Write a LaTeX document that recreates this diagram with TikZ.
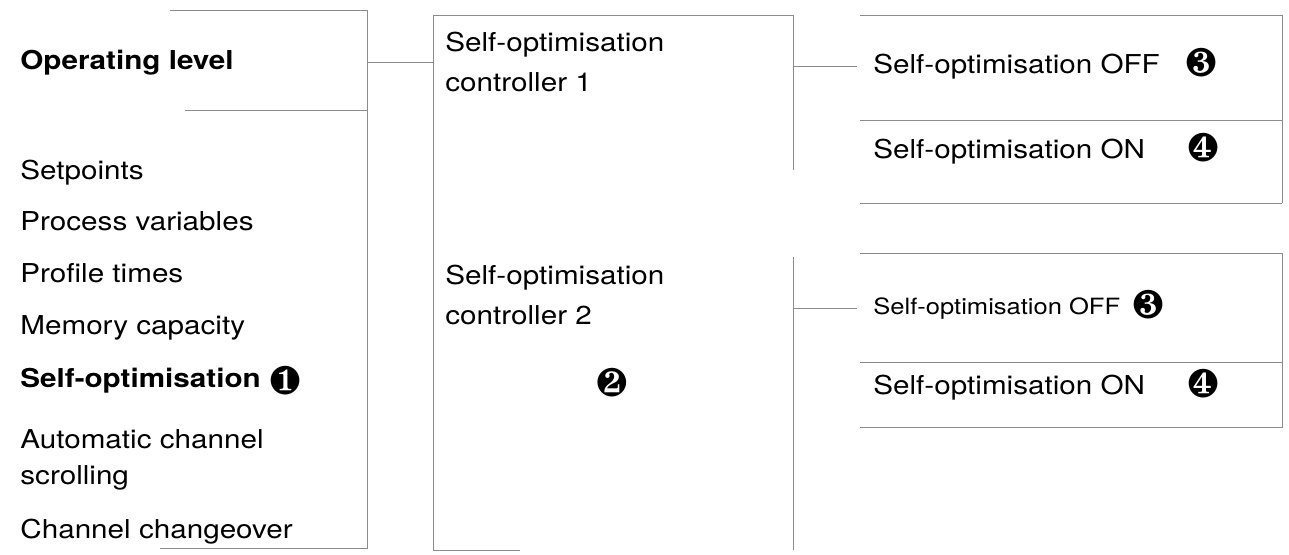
\documentclass[tikz,border=0pt]{standalone}
\usepackage{fontspec}
\setmainfont{TeX Gyre Heros}[FakeStretch=1.14]
\usepackage{pifont}
\usepackage{tikz}
\usetikzlibrary{positioning}
\tikzstyle{item} = [
    anchor=base west,
    inner sep=0pt,
    font=\fontsize{13}{18}\selectfont
]
\tikzstyle{twoline} = [
    item,
    anchor=north west,
    align=left
]
\tikzstyle{badge} = [
    inner sep=0pt,
    font=\fontsize{20}{20}\selectfont
]
\tikzstyle{rule} = [
    draw=black!45,
    line width=0.5pt
]
\tikzstyle{link} = [rule]

\begin{document}
\begin{tikzpicture}[x=0.5pt, y=-0.5pt]
    \useasboundingbox (0,0) rectangle (1289,554);

    % Column edges
    \coordinate (lcol-e) at (367,0);
    \coordinate (mcol-w) at (433,0);
    \coordinate (mcol-e) at (793,0);

    % Frames
    \draw[rule] (170,10) -- (367,10) -- (367,548) -- (160,548);
    \draw[rule] (185,110) -- (367,110);
    \draw[rule] (520,550) -- (433,550) -- (433,15) -- (793,15) -- (793,170);
    \draw[rule] (793,257) -- (793,550);
    \draw[rule] (860,15) -- (1282,15) -- (1282,203);
    \draw[rule] (860,120) -- (1282,120);
    \draw[rule] (860,203) -- (1282,203);
    \draw[rule] (860,253) -- (1282,253) -- (1282,427) -- (860,427);
    \draw[rule] (860,362) -- (1282,362);

    % Operating level menu
    \node[item, font=\fontsize{13}{18}\selectfont\bfseries] (oplevel) at (20,69) {Operating level};
    \node[item] (setpoints) at (20,179) {Setpoints};
    \node[item] (procvar) at (20,230) {Process variables};
    \node[item] (proftime) at (20,282) {Profile times};
    \node[item] (memcap) at (20,334) {Memory capacity};
    \node[item, font=\fontsize{13}{18}\selectfont\bfseries] (selfopt) at (20,387) {Self-optimisation};
    \node[badge, right=4pt of selfopt] (n1) {\ding{182}};
    \node[twoline] (autoscroll) at (20,429) {Automatic channel\\scrolling};
    \node[item] (chchange) at (20,538) {Channel changeover};

    % Controllers
    \node[twoline, font=\fontsize{13}{20}\selectfont] (ctrl1) at (445,32) {Self-optimisation\\controller 1};
    \node[twoline, font=\fontsize{13}{20}\selectfont] (ctrl2) at (445,265) {Self-optimisation\\controller 2};
    \node[badge] (n2) at (612,383) {\ding{183}};

    % Settings
    \node[item] (off1) at (873,73) {Self-optimisation OFF};
    \node[badge] (n3a) at (1201,63) {\ding{184}};
    \node[item] (on1) at (873,158) {Self-optimisation ON};
    \node[badge] (n4a) at (1203,148) {\ding{185}};
    \node[item, font=\fontsize{11.2}{13}\selectfont] (off2) at (873,314) {Self-optimisation OFF};
    \node[badge] (n3b) at (1148,305) {\ding{184}};
    \node[item] (on2) at (873,394) {Self-optimisation ON};
    \node[badge] (n4b) at (1203,384) {\ding{185}};

    % Links
    \draw[link] (oplevel.east -| lcol-e) -- (oplevel.east -| mcol-w);
    \draw[link] (off1.west -| mcol-e) -- ([xshift=-8pt]off1.west);
    \draw[link] (off2.west -| mcol-e) -- ([xshift=-8pt]off2.west);
\end{tikzpicture}
\end{document}
